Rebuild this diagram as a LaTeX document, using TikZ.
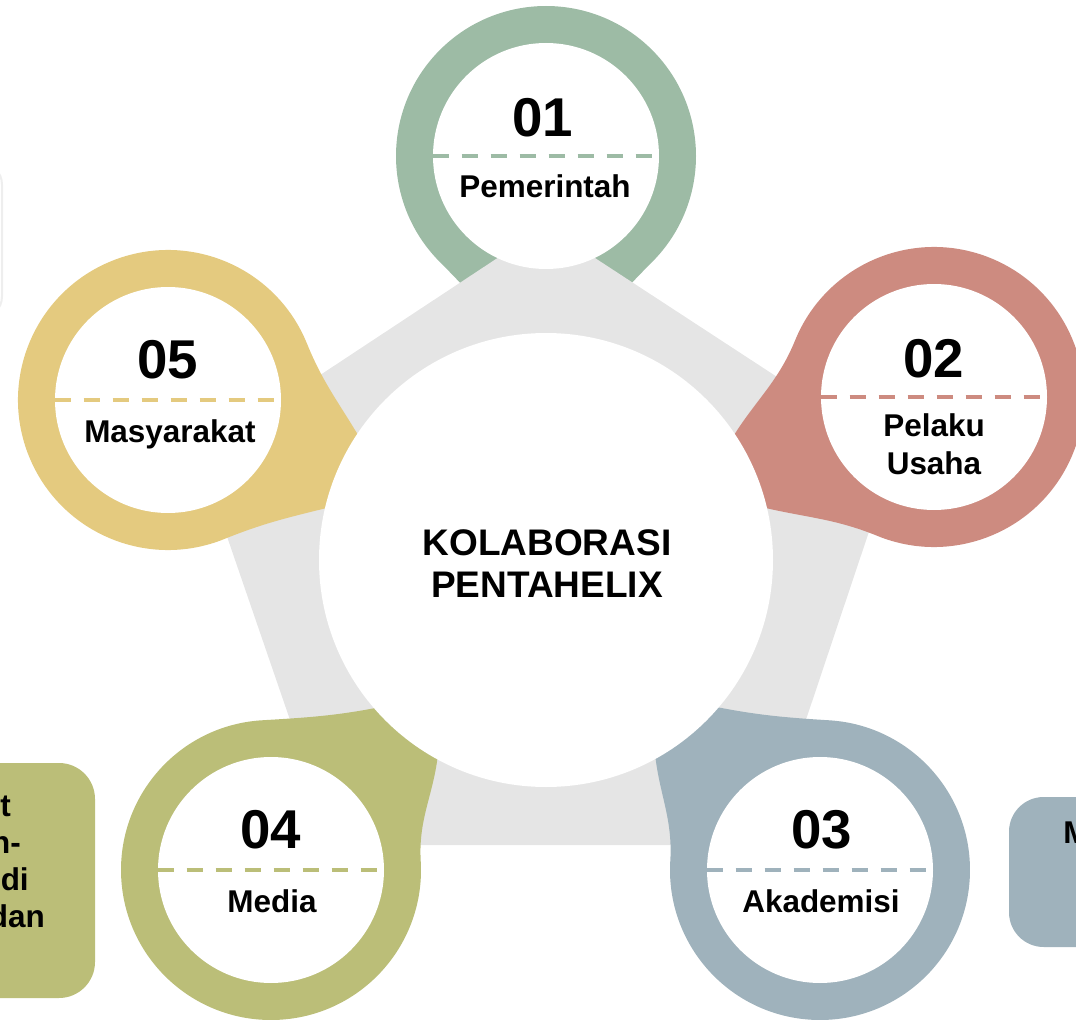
\documentclass[tikz,border=0pt]{standalone}
\usepackage{fontspec}
\setmainfont{Liberation Sans}
\usetikzlibrary{calc}
\definecolor{cgreen}{HTML}{9DBBA5}
\definecolor{cred}{HTML}{CD8B80}
\definecolor{cblue}{HTML}{9FB2BC}
\definecolor{colive}{HTML}{BBBE78}
\definecolor{cyellow}{HTML}{E4CA7F}
\definecolor{cgray}{HTML}{E5E5E5}
\definecolor{cedge}{HTML}{EEEEEE}

% #1 colour, #2 centre coordinate name, #3 angle from pin centre to hub, #4 angle of tail on hub
\newcommand\pintear[4]{%
  \pgfmathsetmacro\tA{#4-9}%
  \pgfmathsetmacro\tB{#4+9}%
  \pgfmathsetmacro\tOutA{#3+143}%
  \pgfmathsetmacro\tInA{#3+315}%
  \pgfmathsetmacro\tS{#3+45}%
  \pgfmathsetmacro\tE{#3+315}%
  \pgfmathsetmacro\tOutB{#3+45}%
  \pgfmathsetmacro\tInB{#3+217}%
  \fill[#1] ($(C)+(\tA:217)$) to[out=\tOutA, in=\tInA] ($(#2)+(\tS:150)$)
    arc[start angle=\tS, end angle=\tE, radius=150]
    to[out=\tOutB, in=\tInB] ($(C)+(\tB:217)$) -- (C) -- cycle;
}

\begin{document}
\begin{tikzpicture}[x=0.75pt,y=0.75pt,
  num/.style={font=\fontsize{41}{41}\selectfont\bfseries, anchor=base, inner sep=0pt},
  lab/.style={font=\fontsize{23.6}{28}\selectfont\bfseries, anchor=base, inner sep=0pt},
  hub/.style={font=\fontsize{27.75}{32}\selectfont\bfseries, anchor=base, inner sep=0pt},
  side/.style={font=\fontsize{23.6}{28}\selectfont\bfseries, inner sep=0pt},
  inner/.style={circle, fill=white, minimum size=169.5pt, inner sep=0pt},
  dline/.style={line width=3pt, dash pattern=on 12pt off 9.75pt}]
\useasboundingbox (0,0) rectangle (1076,-1024);
\clip (0,0) rectangle (1076,-1024);

% centres
\coordinate (C) at (546,-560);
\coordinate (P1) at (546,-156);
\coordinate (P2) at (934,-397);
\coordinate (P3) at (820,-870);
\coordinate (P4) at (271,-870);
\coordinate (P5) at (168,-400);

% side boxes (cut by the page edge)
\draw[cedge, line width=1.5pt, fill=white, rounded corners=16pt] (-300,-163) rectangle (2,-318);
\fill[colive, rounded corners=27pt] (-300,-763) rectangle (95,-998);
\fill[cblue, rounded corners=26pt] (1009,-797) rectangle (1300,-947);
\node[side, anchor=base east] (bt1) at (11,-816) {t};
\node[side, anchor=base east] (bt2) at (21,-853) {n-};
\node[side, anchor=base east] (bt3) at (29,-890) {di};
\node[side, anchor=base east] (bt4) at (45,-927) {dan};
\node[side, anchor=base west] (bm1) at (1063,-843) {M};

% pin 01 lies under the grey pentagon
\pintear{cgreen}{P1}{-90}{90}
\fill[cgray] (546,-226) -- (895,-454) -- (764,-845) -- (333,-845) -- (199,-455) -- cycle;
\pintear{cred}{P2}{202.8}{23.5}
\pintear{cblue}{P3}{131.5}{-51}
\pintear{colive}{P4}{48.4}{231.3}
\pintear{cyellow}{P5}{-22.9}{156.5}

% hub
\node[circle, fill=white, minimum size=340.5pt, inner sep=0pt] (hub) at (C) {};
\node[hub] (hubA) at (547,-555) {KOLABORASI};
\node[hub] (hubB) at (547,-597) {PENTAHELIX};

% inner discs
\node[inner] (in1) at (P1) {};
\node[inner] (in2) at (P2) {};
\node[inner] (in3) at (P3) {};
\node[inner] (in4) at (P4) {};
\node[inner] (in5) at (P5) {};

\draw[dline, cgreen] (in1.west) -- (in1.east);
\draw[dline, cred] (in2.west) -- (in2.east);
\draw[dline, cblue] (in3.west) -- (in3.east);
\draw[dline, colive] (in4.west) -- (in4.east);
\draw[dline, cyellow] (in5.west) -- (in5.east);

\node[num] (n1) at (543,-137) {01};
\node[lab] (l1) at (545,-197) {Pemerintah};
\node[num] (n2) at (934,-377) {02};
\node[lab] (l2a) at (934,-436) {Pelaku};
\node[lab] (l2b) at (934,-474) {Usaha};
\node[num] (n3) at (822,-848) {03};
\node[lab] (l3) at (821,-912) {Akademisi};
\node[num] (n4) at (271,-848) {04};
\node[lab] (l4) at (272,-912) {Media};
\node[num] (n5) at (168,-378) {05};
\node[lab] (l5) at (170,-442) {Masyarakat};
\end{tikzpicture}
\end{document}
